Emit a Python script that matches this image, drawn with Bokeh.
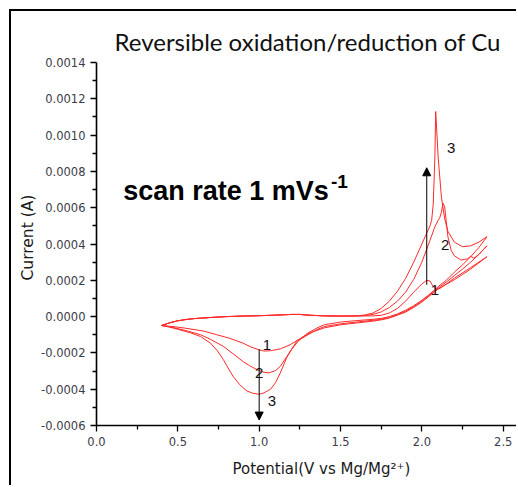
import math
from bokeh.plotting import figure
from bokeh.models import (Range1d, PrintfTickFormatter, FixedTicker, Title,
                          Label, Arrow, NormalHead, ColumnDataSource)
from bokeh.core.properties import value
from bokeh.embed import file_html
from bokeh.resources import INLINE

# ---- cyclic voltammograms, three successive cycles (potential in V, current in A)
# cycle 1
c1_v = [0.40, 0.45, 0.50, 0.55, 0.60, 0.70, 0.80, 0.90, 1.00, 1.10, 1.20, 1.25, 1.30, 1.40,
        1.50, 1.60, 1.70, 1.75, 1.80, 1.85, 1.90, 1.95, 2.00, 2.03, 2.05, 2.07, 2.09, 2.12,
        2.20, 2.30, 2.40,
        2.35, 2.30, 2.25, 2.20, 2.15, 2.10, 2.05, 2.00, 1.95, 1.90, 1.85, 1.80, 1.75, 1.70,
        1.60, 1.50, 1.40, 1.31, 1.25, 1.19, 1.13, 1.07, 1.03, 1.00, 0.95, 0.90, 0.82, 0.74,
        0.66, 0.54, 0.47, 0.40]
c1_i = [-0.000049, -0.000034, -0.000023, -0.000016, -0.000011, -0.000005, 0.000000, 0.000003,
        0.000005, 0.000008, 0.000012, 0.000012, 0.000008, 0.000004, 0.000003, 0.000003,
        0.000004, 0.000007, 0.000020, 0.000045, 0.000085, 0.000135, 0.000180, 0.000200,
        0.000196, 0.000165, 0.000150, 0.000160, 0.000212, 0.000270, 0.000330,
        0.000296, 0.000262, 0.000232, 0.000203, 0.000178, 0.000152, 0.000116, 0.000080,
        0.000050, 0.000025, 0.000008, -0.000008, -0.000018, -0.000025, -0.000035, -0.000045,
        -0.000062, -0.000090, -0.000122, -0.000155, -0.000178, -0.000188, -0.000190,
        -0.000183, -0.000168, -0.000146, -0.000120, -0.000100, -0.000080, -0.000063,
        -0.000055, -0.000049]

# cycle 2
c2_v = [0.40, 0.45, 0.50, 0.55, 0.60, 0.70, 0.80, 0.90, 1.00, 1.10, 1.20, 1.25, 1.30, 1.40,
        1.50, 1.60, 1.65, 1.70, 1.75, 1.80, 1.85, 1.90, 1.95, 2.00, 2.05, 2.08, 2.10, 2.11,
        2.12, 2.13, 2.14, 2.15, 2.16, 2.18, 2.20, 2.24, 2.28, 2.30, 2.32, 2.35, 2.40,
        2.35, 2.30, 2.25, 2.20, 2.15, 2.10, 2.05, 2.00, 1.95, 1.90, 1.85, 1.80, 1.75, 1.70,
        1.60, 1.50, 1.40, 1.355, 1.30, 1.23, 1.17, 1.13, 1.10, 1.06, 1.02, 0.986, 0.94, 0.90,
        0.84, 0.78, 0.70, 0.64, 0.55, 0.47, 0.40]
c2_i = [-0.000049, -0.000034, -0.000023, -0.000016, -0.000011, -0.000005, 0.000000, 0.000003,
        0.000005, 0.000008, 0.000012, 0.000012, 0.000008, 0.000004, 0.000003, 0.000004,
        0.000006, 0.000012, 0.000026, 0.000050, 0.000085, 0.000135, 0.000205, 0.000300,
        0.000420, 0.000495, 0.000530, 0.000545, 0.000575, 0.000625, 0.000605, 0.000525,
        0.000440, 0.000365, 0.000335, 0.000312, 0.000318, 0.000332, 0.000322, 0.000342,
        0.000390,
        0.000342, 0.000300, 0.000262, 0.000226, 0.000190, 0.000158, 0.000120, 0.000085,
        0.000055, 0.000030, 0.000010, -0.000005, -0.000015, -0.000020, -0.000030, -0.000040,
        -0.000055, -0.000072, -0.000100, -0.000137, -0.000220, -0.000274, -0.000298,
        -0.000310, -0.000305, -0.000292, -0.000270, -0.000247, -0.000205, -0.000164,
        -0.000125, -0.000100, -0.000077, -0.000060, -0.000049]

# cycle 3
c3_v = [0.40, 0.45, 0.50, 0.55, 0.60, 0.70, 0.80, 0.90, 1.00, 1.10, 1.20, 1.25, 1.30, 1.40,
        1.50, 1.60, 1.65, 1.70, 1.75, 1.80, 1.85, 1.90, 1.95, 2.00, 2.03, 2.05, 2.06, 2.07,
        2.08, 2.085, 2.09, 2.10, 2.12, 2.14, 2.16, 2.20, 2.25, 2.30, 2.35, 2.40,
        2.35, 2.30, 2.25, 2.20, 2.15, 2.10, 2.05, 2.00, 1.95, 1.90, 1.85, 1.80, 1.75, 1.70,
        1.60, 1.50, 1.40, 1.355, 1.30, 1.25, 1.20, 1.17, 1.13, 1.10, 1.07, 1.03, 1.00, 0.96,
        0.925, 0.88, 0.84, 0.80, 0.78, 0.74, 0.70, 0.64, 0.58, 0.50, 0.45, 0.40]
c3_i = [-0.000049, -0.000034, -0.000023, -0.000016, -0.000011, -0.000005, 0.000000, 0.000003,
        0.000005, 0.000008, 0.000012, 0.000012, 0.000008, 0.000004, 0.000003, 0.000004,
        0.000009, 0.000020, 0.000045, 0.000085, 0.000140, 0.000210, 0.000300, 0.000400,
        0.000460, 0.000500, 0.000530, 0.000620, 0.000880, 0.001130, 0.001050, 0.000880,
        0.000660, 0.000540, 0.000470, 0.000410, 0.000385, 0.000390, 0.000410, 0.000440,
        0.000380, 0.000330, 0.000285, 0.000245, 0.000200, 0.000165, 0.000125, 0.000090,
        0.000060, 0.000035, 0.000015, 0.000000, -0.000010, -0.000015, -0.000022, -0.000030,
        -0.000045, -0.000063, -0.000090, -0.000125, -0.000180, -0.000225, -0.000310,
        -0.000365, -0.000400, -0.000420, -0.000428, -0.000422, -0.000410, -0.000375,
        -0.000330, -0.000270, -0.000237, -0.000185, -0.000146, -0.000110, -0.000090,
        -0.000070, -0.000058, -0.000049]

# cycle number labels next to the peaks
num_text = ["3", "2", "1", "1", "2", "3"]
num_v = [2.18, 2.143, 2.08, 1.047, 1.00, 1.078]
num_i = [0.00093, 0.000394, 0.000147, -0.000155, -0.00031, -0.000467]

# arrows showing growth of the peaks with cycling
arrow_v = [2.03, 1.00]
arrow_i0 = [0.000175, -0.00018]
arrow_i1 = [0.00082, -0.00057]

# axis ticks
x_major = [0.0, 0.5, 1.0, 1.5, 2.0, 2.5]
x_minor = [0.25, 0.75, 1.25, 1.75, 2.25]
y_major = [-0.0006, -0.0004, -0.0002, 0.0, 0.0002, 0.0004, 0.0006, 0.0008, 0.0010,
           0.0012, 0.0014]
y_minor = [-0.0005, -0.0003, -0.0001, 0.0001, 0.0003, 0.0005, 0.0007, 0.0009, 0.0011,
           0.0013]

title_text = "Reversible oxidation/reduction of Cu"
x_label = "Potential(V vs Mg/Mg\u00b2\u207a)"
y_label = "Current (A)"

p = figure(width=507, height=476, output_backend="svg", toolbar_location=None,
           x_range=Range1d(0, 2.594), y_range=Range1d(-0.0006, 0.0014),
           min_border_left=85, min_border_right=0, min_border_top=51, min_border_bottom=61)
p.margin = (9, 0, 0, 9)
p.styles = {"border-left": "2px solid black", "border-top": "2px solid black"}
p.outline_line_color = None
p.grid.visible = False
p.background_fill_color = "white"
p.border_fill_color = "white"

p.title.text = title_text
p.title.align = "left"
p.title.offset = 18
p.title.standoff = 13
p.title.text_font = "Lato"
p.title.text_font_size = "24px"
p.title.text_font_style = "normal"
p.title.text_color = "#111111"

tick_color = "#3c3c48"
for ax in (p.xaxis[0], p.yaxis[0]):
    ax.axis_line_width = 1.6
    ax.axis_line_color = "black"
    ax.major_tick_line_color = "black"
    ax.minor_tick_line_color = "black"
    ax.major_tick_line_width = 1.3
    ax.minor_tick_line_width = 1.3
    ax.major_tick_in = 0
    ax.major_tick_out = 6
    ax.minor_tick_in = 0
    ax.minor_tick_out = 4
    ax.major_label_text_font = "DejaVu Sans"
    ax.major_label_text_font_size = "11.5px"
    ax.major_label_text_color = tick_color
    ax.major_label_standoff = 5

p.xaxis[0].ticker = FixedTicker(ticks=x_major, minor_ticks=x_minor)
p.yaxis[0].ticker = FixedTicker(ticks=y_major, minor_ticks=y_minor)
p.xaxis[0].formatter = PrintfTickFormatter(format="%.1f")
p.yaxis[0].formatter = PrintfTickFormatter(format="%.4f")

# axis titles as side titles so they can be positioned freely
p.add_layout(Title(text=y_label, align="left", offset=145, standoff=3,
                   text_font="DejaVu Sans", text_font_size="15.5px",
                   text_font_style="normal", text_color="#1a1a1a"), "left")
p.add_layout(Title(text=x_label, align="left", offset=136, standoff=19,
                   text_font="DejaVu Sans", text_font_size="15px",
                   text_font_style="normal", text_color="#1a1a1a"), "below")

red = "#ff2a2a"
for vs, cs in ((c1_v, c1_i), (c2_v, c2_i), (c3_v, c3_i)):
    p.line(vs, cs, line_color=red, line_width=1.0)

for x, y0, y1 in zip(arrow_v, arrow_i0, arrow_i1):
    p.add_layout(Arrow(end=NormalHead(size=8, fill_color="black", line_color="black"),
                       x_start=x, y_start=y0, x_end=x, y_end=y1,
                       line_color="black", line_width=1.0))

src = ColumnDataSource(dict(x=num_v, y=num_i, t=num_text))
p.text(x="x", y="y", text="t", source=src, text_font=value("Liberation Sans"),
       text_font_size="15px", text_align="center", text_baseline="middle",
       text_color="#111111")

# scan rate annotation with superscript
p.add_layout(Label(x=0.164, y=0.00069, text="scan rate 1 mVs",
                   text_font="Liberation Sans", text_font_style="bold",
                   text_font_size="27px", text_color="black",
                   text_baseline="alphabetic", text_align="left"))
p.add_layout(Label(x=1.441, y=0.000745, text="-1",
                   text_font="Liberation Sans", text_font_style="bold",
                   text_font_size="19px", text_color="black",
                   text_baseline="alphabetic", text_align="left"))

open("out.html", "w").write(file_html(p, INLINE))
